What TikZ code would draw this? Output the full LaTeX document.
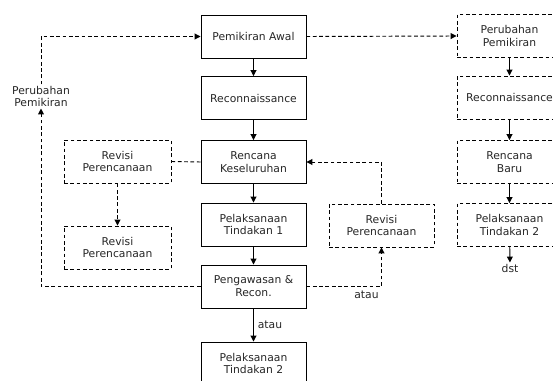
\documentclass[tikz,border=0pt]{standalone}
\usepackage{fontspec}
\setmainfont{DejaVu Sans}
\usetikzlibrary{arrows.meta}

\begin{document}
\begin{tikzpicture}[
  font=\fontsize{9.2}{11}\selectfont,
  solidbox/.style={draw=black,line width=0.8pt,minimum width=3.150cm,minimum height=1.290cm,align=center,text=black!85},
  dashbox/.style={solidbox,dash pattern=on 3.2pt off 2.2pt},
  flow/.style={line width=0.8pt,-{Triangle[length=5pt,width=5pt]}},
  dashflow/.style={flow,dash pattern=on 3.2pt off 2.2pt},
  dashline/.style={line width=0.8pt,dash pattern=on 3.2pt off 2.2pt}]
\useasboundingbox (0.000,0.000) rectangle (16.590,-11.430);
% main column
\node[solidbox] (awal) at (7.605,-1.095) {Pemikiran Awal};
\node[solidbox] (recon) at (7.605,-2.940) {Reconnaissance};
\node[solidbox] (rencana) at (7.605,-4.860) {Rencana\\Keseluruhan};
\node[solidbox] (aksiA) at (7.605,-6.735) {Pelaksanaan\\Tindakan 1};
\node[solidbox] (awas) at (7.605,-8.595) {Pengawasan \&\\Recon.};
\node[solidbox] (aksiB) at (7.605,-10.905) {Pelaksanaan\\Tindakan 2};
% left side
\node[dashbox,minimum width=3.210cm] (revisiA) at (3.525,-4.845) {Revisi\\Perencanaan};
\node[dashbox,minimum width=3.210cm] (revisiB) at (3.525,-7.425) {Revisi\\Perencanaan};
\node[align=center,inner sep=1pt,text=black!85] (ubahkiri) at (1.230,-2.895) {Perubahan\\Pemikiran};
% middle
\node[dashbox] (revisiC) at (11.445,-6.765) {Revisi\\Perencanaan};
% right column
\node[dashbox] (ubah) at (15.285,-1.080) {Perubahan\\Pemikiran};
\node[dashbox] (recon2) at (15.285,-2.925) {Reconnaissance};
\node[dashbox] (baru) at (15.285,-4.860) {Rencana\\Baru};
\node[dashbox] (aksiC) at (15.285,-6.750) {Pelaksanaan\\Tindakan 2};
\node[text=black!85,inner sep=1pt] (dst) at (15.300,-8.040) {dst};

\draw[flow] (awal) -- (recon);
\draw[flow] (recon) -- (rencana);
\draw[flow] (rencana) -- (aksiA);
\draw[flow] (aksiA) -- (awas);
\draw[flow] (awas) -- node[right,text=black!85]{atau} (aksiB);

\draw[dashline] (rencana.west) -- (revisiA.east);
\draw[dashflow] (revisiA) -- (revisiB);
\draw[dashflow] (awas.west) -| (ubahkiri.south);
\draw[dashflow] (ubahkiri.north) |- (awal.west);

\draw[dashflow] (awas.east) -| node[pos=0.4,below,text=black!85]{atau} (revisiC.south);
\draw[dashflow] (revisiC.north) |- (rencana.east);

\draw[dashflow] (awal.east) -- (ubah.west);
\draw[flow] (ubah) -- (recon2);
\draw[flow] (recon2) -- (baru);
\draw[flow] (baru) -- (aksiC);
\draw[flow] (aksiC) -- (dst);
\end{tikzpicture}
\end{document}
